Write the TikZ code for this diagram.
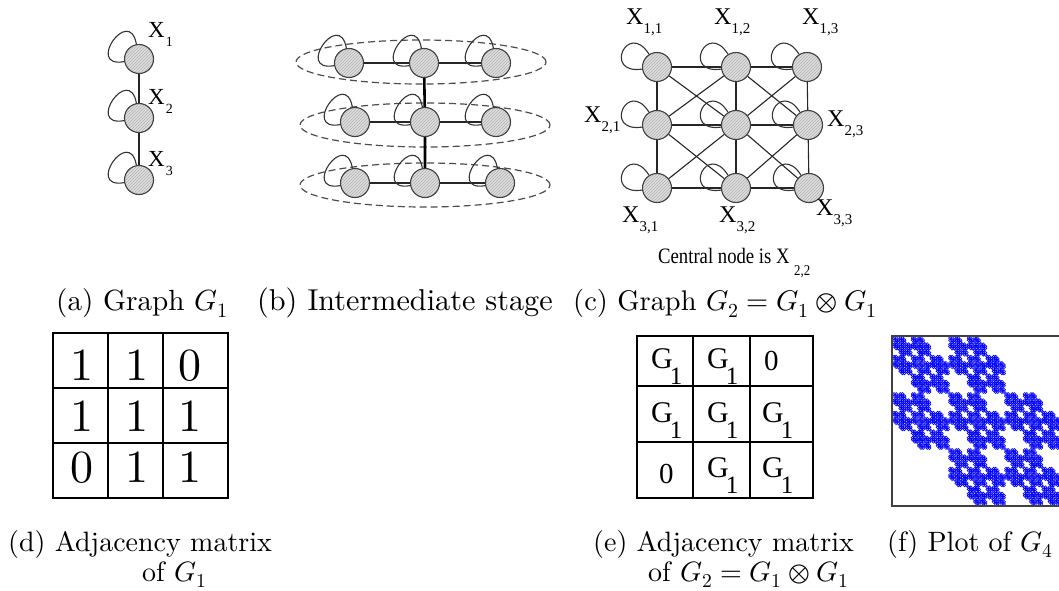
\documentclass[tikz,border=0pt]{standalone}
\usepackage{fontspec}
\usepackage{unicode-math}
\setmainfont{lmroman10-regular}[Extension=.otf, ItalicFont=lmroman10-italic, BoldFont=lmroman10-bold]
\setmathfont{Latin Modern Math}
\newfontfamily\tms{Liberation Serif}
\usetikzlibrary{patterns,shapes.geometric}
\newcommand\Xa[1]{{\tms\fontsize{23}{23}\selectfont X\kern1pt\raisebox{-9pt}{\fontsize{14}{14}\selectfont #1}}}
\newcommand\Xc[1]{{\tms\fontsize{24}{24}\selectfont X\raisebox{-9pt}{\fontsize{15}{15}\selectfont #1}}}
\newcommand\Gone{{\tms\fontsize{30}{30}\selectfont G\kern-3pt\raisebox{-16pt}{\fontsize{25}{25}\selectfont 1}}}
\newcommand\zer{{\tms\fontsize{29}{29}\selectfont 0}}
\tikzset{
  gnode/.style={circle, minimum size=29pt, inner sep=0pt, draw=black!75, line width=1.1pt,
    preaction={fill=black!13}, pattern=north east lines, pattern color=black!30},
  edgeln/.style={draw=black!85, line width=1.1pt},
  thickedgeln/.style={draw=black, line width=2.6pt},
  selfloop/.style={draw=black!80, line width=1.1pt, out=190, in=100, distance=40pt},
  flatloop/.style={draw=black!80, line width=1.1pt, out=188, in=122, distance=40pt},
  grpell/.style={ellipse, draw=black!70, dashed, dash pattern=on 7pt off 4pt, line width=1.2pt,
    minimum width=250pt, minimum height=44pt, inner sep=0pt},
  captxt/.style={anchor=base west, inner sep=0pt, font=\fontsize{28.4}{33}\selectfont},
  labtxt/.style={anchor=base west, inner sep=0pt},
  digtxt/.style={anchor=base, inner sep=0pt, font=\fontsize{46}{46}\selectfont},
  gridln/.style={draw=black, line width=2pt},
  dotmark/.style={draw=blue, line width=0.65pt},
}
\begin{document}
\begin{tikzpicture}[x=1pt,y=-1pt]
\useasboundingbox (0,0) rectangle (1059,591);

% ---------- (a) ----------
\node[gnode] (a1) at (139,59) {};
\node[gnode] (a2) at (139,118) {};
\node[gnode] (a3) at (139,180) {};
\draw[edgeln] (a1) -- (a2) -- (a3);
\foreach \n in {a1,a2,a3} \draw[selfloop] (\n) to (\n);
\node[labtxt] (la1) at (148,38) {\Xa{1}};
\node[labtxt] (la2) at (148,105) {\Xa{2}};
\node[labtxt] (la3) at (148,166) {\Xa{3}};

% ---------- (b) ----------
\node[grpell] (e1) at (421,62) {};
\node[grpell] (e2) at (425,125) {};
\node[grpell] (e3) at (425,185) {};
\node[gnode] (b11) at (349,63) {};
\node[gnode] (b12) at (424,63) {};
\node[gnode] (b13) at (496,63) {};
\node[gnode] (b21) at (355,122) {};
\node[gnode] (b22) at (425,122) {};
\node[gnode] (b23) at (496,122) {};
\node[gnode] (b31) at (355,183) {};
\node[gnode] (b32) at (425,183) {};
\node[gnode] (b33) at (500,183) {};
\draw[edgeln] (b11) -- (b12) -- (b13);
\draw[edgeln] (b21) -- (b22) -- (b23);
\draw[edgeln] (b31) -- (b32) -- (b33);
\draw[thickedgeln] (b12) -- (b22) -- (b32);
\foreach \n in {b11,b12,b13,b21,b22,b23,b31,b32,b33} \draw[selfloop] (\n) to (\n);

% ---------- (c) ----------
\node[gnode] (c11) at (657,67) {};
\node[gnode] (c12) at (736,67) {};
\node[gnode] (c13) at (807,67) {};
\node[gnode] (c21) at (657,125) {};
\node[gnode] (c22) at (736,125) {};
\node[gnode] (c23) at (808,125) {};
\node[gnode] (c31) at (657,188) {};
\node[gnode] (c32) at (736,188) {};
\node[gnode] (c33) at (809,188) {};
\draw[edgeln] (c11) -- (c12) -- (c13);
\draw[edgeln] (c21) -- (c22) -- (c23);
\draw[edgeln] (c31) -- (c32) -- (c33);
\draw[edgeln] (c11) -- (c21) -- (c31);
\draw[edgeln] (c12) -- (c22) -- (c32);
\draw[edgeln] (c13) -- (c23) -- (c33);
\draw[edgeln] (c11) -- (c22) -- (c33);
\draw[edgeln] (c13) -- (c22) -- (c31);
\draw[edgeln] (c12) -- (c21) -- (c32) -- (c23) -- (c12);
\foreach \n in {c11,c12,c13,c21,c22,c23,c31,c32,c33} \draw[flatloop] (\n) to (\n);
\node[labtxt] (l11) at (626,25) {\Xc{1,1}};
\node[labtxt] (l12) at (714,25) {\Xc{1,2}};
\node[labtxt] (l13) at (802,25) {\Xc{1,3}};
\node[labtxt] (l21) at (584,123) {\Xc{2,1}};
\node[labtxt] (l23) at (827,127) {\Xc{2,3}};
\node[labtxt] (l31) at (622,222) {\Xc{3,1}};
\node[labtxt] (l32) at (719,222) {\Xc{3,2}};
\node[labtxt] (l33) at (816,215) {\Xc{3,3}};
\node[labtxt, xscale=0.85] (central) at (658,263) {\tms\fontsize{22}{22}\selectfont Central node is X\ \raisebox{-12pt}{\fontsize{15}{15}\selectfont 2,2}};

% ---------- captions row 1 ----------
\node[captxt, font=\fontsize{29.2}{33}\selectfont] (capa) at (56,310) {(a) Graph $G_1$};
\node[captxt, font=\fontsize{30.2}{33}\selectfont] (capb) at (257,310) {(b) Intermediate stage};
\node[captxt] (capc) at (573,310) {(c) Graph $G_2 = G_1 \otimes G_1$};

% ---------- (d) matrix ----------
\draw[gridln] (53,333) rectangle (228,498);
\draw[gridln] (108,333) -- (108,498) (163,333) -- (163,498)
            (53,388) -- (228,388) (53,443) -- (228,443);
\node[digtxt] (d11) at (82,380) {1};
\node[digtxt] (d12) at (137,380) {1};
\node[digtxt] (d13) at (190,380) {0};
\node[digtxt] (d21) at (82,431) {1};
\node[digtxt] (d22) at (137,431) {1};
\node[digtxt] (d23) at (190,431) {1};
\node[digtxt] (d31) at (82,482) {0};
\node[digtxt] (d32) at (137,482) {1};
\node[digtxt] (d33) at (190,482) {1};

% ---------- (e) matrix ----------
\draw[gridln, line width=1.8pt] (637,336) rectangle (813,498);
\draw[gridln, line width=1.8pt] (693,336) -- (693,498) (750,336) -- (750,498)
            (637,386) -- (813,386) (637,442) -- (813,442);
\node[labtxt] (e11) at (651,368) {\Gone};
\node[labtxt] (e12) at (707,368) {\Gone};
\node[labtxt] (e13) at (764,370) {\zer};
\node[labtxt] (e21) at (651,422) {\Gone};
\node[labtxt] (e22) at (707,422) {\Gone};
\node[labtxt] (e23) at (762,422) {\Gone};
\node[labtxt] (e31) at (659,483) {\zer};
\node[labtxt] (e32) at (707,477) {\Gone};
\node[labtxt] (e33) at (762,477) {\Gone};

% ---------- (f) plot ----------
\def\prs{0/0,0/1,1/0,1/1,1/2,2/1,2/2}
\foreach \a/\b in \prs {\foreach \c/\d in \prs {\foreach \e/\f in \prs {\foreach \g/\h in \prs {
  \draw[dotmark] ({892+(27*\b+9*\d+3*\f+\h+1)*2.0732},{336+(27*\a+9*\c+3*\e+\g+1)*2.0732}) circle[radius=1.5pt];
}}}}
\draw[draw=black!75, line width=1.5pt] (892,336) rectangle (1062,506);

% ---------- captions row 2 ----------
\node[captxt, font=\fontsize{28}{33}\selectfont] (capd1) at (8,551) {(d) Adjacency matrix};
\node[captxt, font=\fontsize{28}{33}\selectfont] (capd2) at (142,581) {of $G_1$};
\node[captxt, font=\fontsize{28}{33}\selectfont] (cape1) at (593,551) {(e) Adjacency matrix};
\node[captxt, font=\fontsize{28}{33}\selectfont] (cape2) at (648,581) {of $G_2 = G_1 \otimes G_1$};
\node[captxt, font=\fontsize{28}{33}\selectfont] (capf) at (887,551) {(f) Plot of $G_4$};
\end{tikzpicture}
\end{document}
